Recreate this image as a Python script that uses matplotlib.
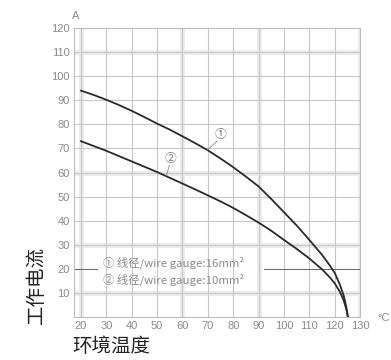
import matplotlib
matplotlib.use("Agg")
import matplotlib.pyplot as plt

temp1 = [20, 25, 30, 35, 40, 45, 50, 55, 60, 65, 70, 75, 80, 85, 90, 95,
         100, 105, 110, 115, 118, 120, 122, 123.5, 124.5, 125.2]
amps1 = [94, 92.2, 90.2, 88, 85.6, 83, 80.3, 77.8, 75, 72.2, 69.2, 65.8, 62.2,
         58.3, 54.2, 49, 43.5, 38, 32, 25.8, 21.5, 18.3, 13.5, 9, 4.5, 0]
temp2 = [20, 25, 30, 35, 40, 45, 50, 55, 60, 65, 70, 75, 80, 85, 90, 95,
         100, 105, 110, 115, 118, 120, 122, 123.5, 124.5, 125.2]
amps2 = [73, 71, 69, 66.8, 64.6, 62.4, 60.2, 57.8, 55.4, 53, 50.5, 48, 45.3,
         42.3, 39.2, 35.8, 32, 28.3, 24.3, 19.8, 16.5, 14, 10.5, 7, 3.5, 0]
x_ticks = [20, 30, 40, 50, 60, 70, 80, 90, 100, 110, 120, 130]
y_ticks = [10, 20, 30, 40, 50, 60, 70, 80, 90, 100, 110, 120]
legend_lines = ["① 线径/wire gauge:16mm²", "② 线径/wire gauge:10mm²"]

cjk = ['Noto Sans CJK SC', 'DejaVu Sans']
num_font = ['Liberation Sans Narrow', 'Liberation Sans', 'DejaVu Sans']
grid_c = '#c8c8c8'
band_c = '#ebebeb'
text_c = '#8a8a8a'

fig = plt.figure(figsize=(3.91, 3.60), dpi=100)
ax = fig.add_axes([0.189, 0.1194, 0.732, 0.8028])
ax.set_xlim(17.2, 130)
ax.set_ylim(0, 120)

# scanned grid: a few lines look like wider pale bands
for x in [20, 60, 90, 130]:
    ax.axvline(x, color=band_c, lw=3.5, zorder=0)
for y in [110, 60, 30, 10]:
    ax.axhline(y, color=band_c, lw=3.5, zorder=0)
for x in x_ticks:
    ax.axvline(x, color=grid_c, lw=0.8, zorder=1)
for y in y_ticks:
    if y != 20:
        ax.axhline(y, color=grid_c, lw=0.8, zorder=1)
# the 20 A line shows darker and is broken by the legend text
ax.plot([17.2, 26.3], [20, 20], color='#6e6e6e', lw=0.8, zorder=2)
ax.plot([92.2, 130], [20, 20], color='#6e6e6e', lw=0.8, zorder=2)

ax.plot(temp1, amps1, color='#2a2a2a', lw=1.3, zorder=3)
ax.plot(temp2, amps2, color='#2a2a2a', lw=1.3, zorder=3)

# circled curve numbers with short leaders
ax.text(74.8, 75.8, '①', ha='center', va='center', fontsize=8.5, color='#777777',
        family=cjk, zorder=4)
ax.plot([73.6, 69.8], [73.0, 69.3], color='#888888', lw=0.6, zorder=4)
ax.text(55.3, 65.7, '②', ha='center', va='center', fontsize=8.5, color='#777777',
        family=cjk, zorder=4)
ax.plot([54.8, 53.7], [62.9, 58.8], color='#888888', lw=0.6, zorder=4)

ax.text(28.7, 22.4, legend_lines[0], fontsize=8.2, color=text_c, family=cjk,
        va='center', ha='left', zorder=4)
ax.text(28.7, 15.4, legend_lines[1], fontsize=8.2, color=text_c, family=cjk,
        va='center', ha='left', zorder=4)

ax.set_xticks(x_ticks)
ax.set_yticks(y_ticks)
ax.set_xticklabels([str(t) for t in x_ticks], family=num_font)
ax.set_yticklabels([str(t) for t in y_ticks], family=num_font)
ax.tick_params(length=0, labelsize=8, labelcolor=text_c, pad=3)
for s in ax.spines.values():
    s.set_color('#bdbdbd')
    s.set_linewidth(0.8)

fig.text(111 / 391, 1 - 347 / 360, '环境温度', family=cjk, fontsize=14, color='#222222',
         ha='center', va='center')
fig.text(36 / 391, 1 - 285 / 360, '工作电流', family=cjk, fontsize=14, color='#222222',
         ha='center', va='center', rotation=90)

fig.text(76 / 391, 1 - 16 / 360, 'A', fontsize=8, color=text_c, ha='center', va='center',
         family=num_font)
fig.text(390 / 391, 1 - 318 / 360, '°C', fontsize=8, color=text_c, ha='right', va='center',
         family=num_font)

fig.savefig('out.png', dpi=100, facecolor='white')
